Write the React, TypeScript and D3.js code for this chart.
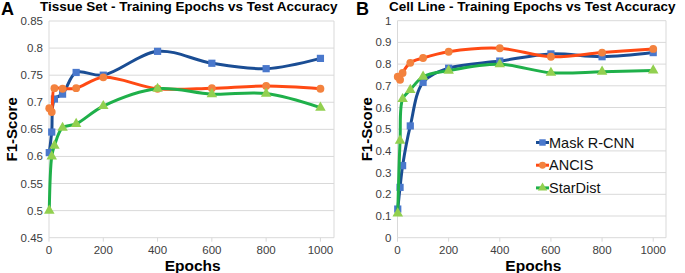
import React from "react";
import * as d3 from "d3";

const epochs = [1, 10, 20, 50, 100, 200, 400, 600, 800, 1000];
const xTicks = [0, 200, 400, 600, 800, 1000];

const seriesNames = ["Mask R-CNN", "ANCIS", "StarDist"];

const tissueMaskRCNN = [0.607, 0.645, 0.706, 0.715, 0.755, 0.75, 0.794, 0.772, 0.762, 0.781];
const tissueANCIS = [0.689, 0.682, 0.726, 0.725, 0.726, 0.746, 0.725, 0.726, 0.73, 0.725];
const tissueStarDist = [0.5, 0.6, 0.62, 0.653, 0.66, 0.693, 0.725, 0.715, 0.716, 0.69];

const cellMaskRCNN = [0.132, 0.232, 0.332, 0.515, 0.716, 0.781, 0.814, 0.847, 0.834, 0.853];
const cellANCIS = [0.742, 0.728, 0.759, 0.806, 0.828, 0.857, 0.873, 0.834, 0.853, 0.87];
const cellStarDist = [0.112, 0.447, 0.639, 0.681, 0.742, 0.77, 0.799, 0.76, 0.765, 0.771];

const yTicksA = [0.45, 0.5, 0.55, 0.6, 0.65, 0.7, 0.75, 0.8, 0.85];
const yTicksB = [0, 0.1, 0.2, 0.3, 0.4, 0.5, 0.6, 0.7, 0.8, 0.9, 1];

const lineColors = ["#1a4d94", "#ff4a14", "#1fb04a"];
const markerColors = ["#4a78cc", "#f3823e", "#92d050"];
const markerShapes = [d3.symbolSquare, d3.symbolCircle, d3.symbolTriangle];
const markerSizes = [52, 48, 48];

const FONT = "'Liberation Sans', Arial, sans-serif";

type PanelProps = {
  left: number;
  right: number;
  top: number;
  bottom: number;
  yDomain: [number, number];
  yTicks: number[];
  series: number[][];
  title: string;
  letter: string;
  letterX: number;
  titleX: number;
  yLabelX: number;
  legend?: boolean;
};

function Panel(p: PanelProps) {
  const x = d3.scaleLinear().domain([0, 1050]).range([p.left, p.right]);
  const y = d3.scaleLinear().domain(p.yDomain).range([p.bottom, p.top]);
  const line = d3
    .line<[number, number]>()
    .x((d) => x(d[0]))
    .y((d) => y(d[1]))
    .curve(d3.curveCatmullRom.alpha(0.5));
  const fmt = (v: number) => String(+v.toFixed(2));
  const grid = "#d9d9d9";
  return (
    <g>
      {p.yTicks.map((t) => (
        <g key={"y" + t}>
          <line x1={p.left} x2={p.right} y1={y(t)} y2={y(t)} stroke={grid} strokeWidth={1} />
          <text x={p.left - 6} y={y(t)} dy="0.35em" textAnchor="end" fontSize={11.5} fill="#404040" fontFamily={FONT}>
            {fmt(t)}
          </text>
        </g>
      ))}
      <line x1={p.left} x2={p.left} y1={p.top} y2={p.bottom} stroke={grid} />
      <line x1={p.right} x2={p.right} y1={p.top} y2={p.bottom} stroke={grid} />
      {xTicks.map((t) => (
        <g key={"x" + t}>
          <line x1={x(t)} x2={x(t)} y1={p.bottom} y2={p.bottom + 4} stroke={grid} />
          <text x={x(t)} y={p.bottom + 12} dy="0.35em" textAnchor="middle" fontSize={11.5} fill="#404040" fontFamily={FONT}>
            {t}
          </text>
        </g>
      ))}
      {p.series.map((s, i) => {
        const pts = epochs.map((e, j) => [e, s[j]] as [number, number]);
        return (
          <g key={"s" + i}>
            <path d={line(pts) || ""} fill="none" stroke={lineColors[i]} strokeWidth={3} />
            {pts.map((d, j) => (
              <path
                key={j}
                d={d3.symbol().type(markerShapes[i]).size(markerSizes[i])() || ""}
                transform={`translate(${x(d[0])},${y(d[1])})`}
                fill={markerColors[i]}
              />
            ))}
          </g>
        );
      })}
      <text x={p.letterX} y={15} fontSize={18} fontWeight="bold" fontFamily={FONT} fill="#000">
        {p.letter}
      </text>
      <text x={p.titleX} y={11} fontSize={13.5} fontWeight="bold" fontFamily={FONT} fill="#000">
        {p.title}
      </text>
      <text
        transform={`translate(${p.yLabelX},${(p.top + p.bottom) / 2}) rotate(-90)`}
        textAnchor="middle"
        dy="0.35em"
        fontSize={15}
        fontWeight="bold"
        fontFamily={FONT}
        fill="#000"
      >
        F1-Score
      </text>
      <text x={(x(0) + x(1000)) / 2 + 8} y={266} dy="0.35em" textAnchor="middle" fontSize={15.5} fontWeight="bold" fontFamily={FONT} fill="#000">
        Epochs
      </text>
      {p.legend &&
        seriesNames.map((n, i) => {
          const ly = 142.5 + i * 22.7;
          const lx = 536;
          return (
            <g key={"l" + i}>
              <line x1={lx} x2={lx + 13} y1={ly} y2={ly} stroke={lineColors[i]} strokeWidth={3} />
              <path
                d={d3.symbol().type(markerShapes[i]).size(markerSizes[i] * 0.8)() || ""}
                transform={`translate(${lx + 6.5},${ly})`}
                fill={markerColors[i]}
              />
              <text x={lx + 13} y={ly} dy="0.35em" fontSize={14.5} fontFamily={FONT} fill="#111">
                {n}
              </text>
            </g>
          );
        })}
    </g>
  );
}

export default function App() {
  return (
    <svg
      width={685}
      height={273}
      style={{ position: "absolute", left: 0, top: 0, background: "#fff" }}
    >
      <rect width={685} height={273} fill="#fff" />
      <Panel
        left={49}
        right={334}
        top={21}
        bottom={237.7}
        yDomain={[0.45, 0.85]}
        yTicks={yTicksA}
        series={[tissueMaskRCNN, tissueANCIS, tissueStarDist]}
        title="Tissue Set - Training Epochs vs Test Accuracy"
        letter="A"
        letterX={1}
        titleX={40}
        yLabelX={12}
      />
      <Panel
        left={397.5}
        right={666}
        top={20.7}
        bottom={237.7}
        yDomain={[0, 1]}
        yTicks={yTicksB}
        series={[cellMaskRCNN, cellANCIS, cellStarDist]}
        title="Cell Line - Training Epochs vs Test Accuracy"
        letter="B"
        letterX={356}
        titleX={389}
        yLabelX={367}
        legend
      />
    </svg>
  );
}
